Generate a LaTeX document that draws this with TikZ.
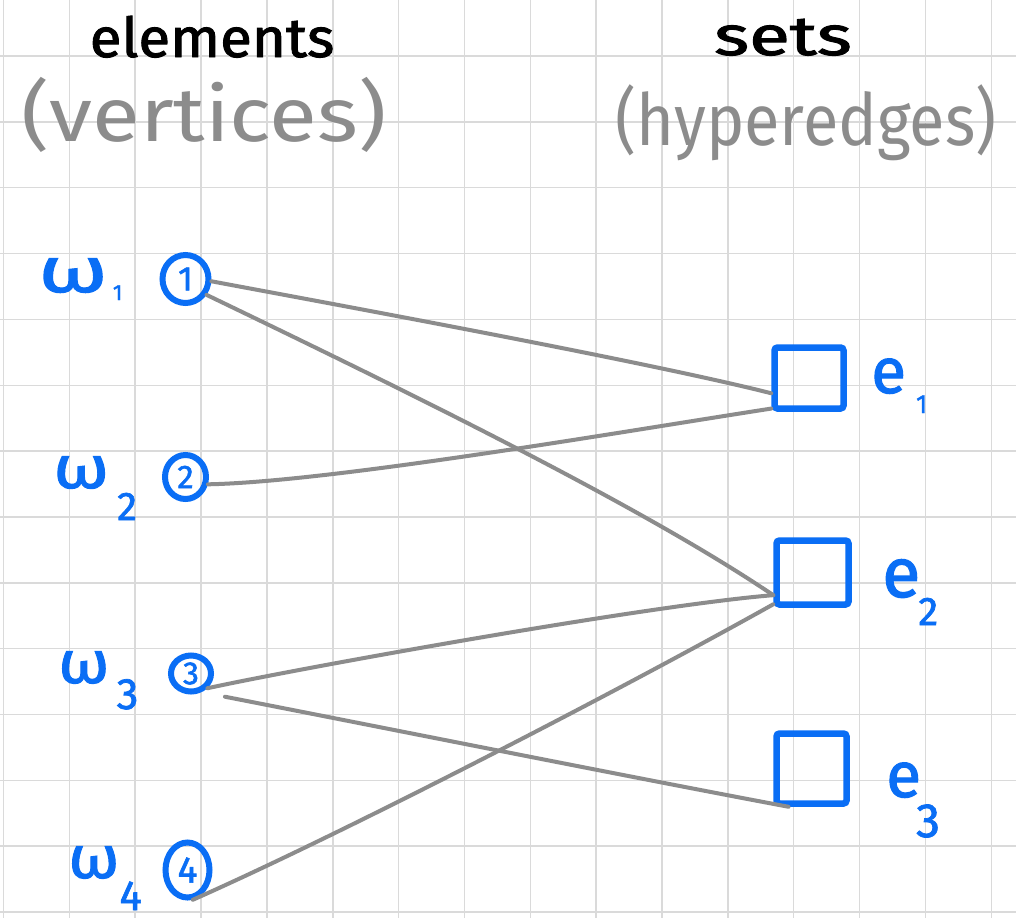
\documentclass[tikz,border=0pt]{standalone}
\usepackage{fontspec}
\setmainfont{Fira Sans}
\newfontfamily\heavy{Fira Sans}[FakeBold=1.6]
\usetikzlibrary{shapes.geometric}
\definecolor{ink}{HTML}{0A6EF5}
\definecolor{pencil}{HTML}{8C8C8C}
\definecolor{gridc}{HTML}{DADADA}
\newcommand{\fsz}[1]{\fontsize{#1}{#1}\selectfont}
% weight label: xscale of the omega, font size, gap, subscript size, drop, index
\newcommand{\wlab}[6]{\scalebox{#1}[1]{\fsz{#2}ω}\kern#3pt\raisebox{-#5pt}{\fsz{#4}#6}}
\newcommand{\elab}[5]{{\fsz{#1}e}\kern#2pt\raisebox{-#4pt}{\fsz{#3}#5}}
\begin{document}
\begin{tikzpicture}[x=1pt,y=-1pt,
  gridline/.style={draw=gridc, line width=1.5pt},
  elem/.style={ellipse, draw=ink, line width=6pt, inner sep=0pt, text=ink},
  hedge/.style={rectangle, draw=ink, line width=6.5pt, inner sep=0pt,
                rounded corners=3pt, minimum width=70pt, minimum height=64pt},
  link/.style={draw=pencil, line width=4pt, line cap=round},
  head/.style={text=black, anchor=base, inner sep=0pt},
  note/.style={text=pencil, anchor=base, inner sep=0pt},
  lab/.style={text=ink, anchor=base west, inner sep=0pt},
]
\useasboundingbox (0,0) rectangle (1016,918);
\fill[white] (0,0) rectangle (1016,918);

% squared paper
\foreach \k in {0,...,15} \draw[gridline] (3.5+65.85*\k,0) -- (3.5+65.85*\k,918);
\foreach \k in {1,...,14} \draw[gridline] (0,-9.85+65.85*\k) -- (1016,-9.85+65.85*\k);

% column headings
\node[head, font=\heavy\fsz{55}] (hElem) at (212,57) {\scalebox{1.06}[1]{elements}};
\node[note, font=\fsz{76}] (hVert) at (204,141) {\scalebox{1.15}[1]{(vertices)}};
\node[head, font=\heavy\fsz{55}] (hSets) at (783,55) {\scalebox{1.36}[1]{sets}};
\node[note, font=\fsz{72}] (hHyp) at (806,145) {\scalebox{0.9}[1]{(hyperedges)}};

% elements
\node[elem, minimum width=46pt, minimum height=48pt, font=\heavy\fsz{34}] (n1) at (185.5,279) {1};
\node[elem, minimum width=41pt, minimum height=44pt, font=\heavy\fsz{33}] (n2) at (185.5,477) {2};
\node[elem, minimum width=40pt, minimum height=36pt, font=\heavy\fsz{32}] (n3) at (191,673.5) {3};
\node[elem, minimum width=44pt, minimum height=55pt, font=\heavy\fsz{37}] (n4) at (187.5,870) {4};

% weights
\node[lab, font=\heavy] (w1) at (38,292) {\wlab{1.4}{64}{5}{22}{8}{1}};
\node[lab, font=\heavy] (w2) at (53,488) {\wlab{1.2}{60}{8}{40}{32}{2}};
\node[lab, font=\heavy] (w3) at (58,683) {\wlab{1.1}{60}{7}{44}{26}{3}};
\node[lab, font=\heavy] (w4) at (68,878) {\wlab{1.1}{60}{0}{42}{32}{4}};

% sets
\node[hedge, minimum width=69pt, minimum height=61pt] (e1) at (809,378) {};
\node[hedge, minimum width=72pt, minimum height=64pt] (e2) at (812.5,572.5) {};
\node[hedge, minimum width=70pt, minimum height=70pt] (e3) at (811.5,768.5) {};

% set names
\node[lab, font=\heavy] (l1) at (871,393) {\elab{64}{10}{26}{20}{1}};
\node[lab, font=\heavy] (l2) at (882,597) {\elab{70}{-2}{40}{28}{2}};
\node[lab, font=\heavy] (l3) at (886,797) {\elab{64}{-5}{48}{40}{3}};

% memberships
\draw[link] (n1.-5) .. controls (300,298) and (640,360) .. (e1.-158);
\draw[link] (n1.-37) .. controls (400,388) and (640,505) .. (e2.-150);
\draw[link] (n2.-18) .. controls (330,482) and (620,432) .. (e1.-141);
\draw[link] (n3.-42) .. controls (300,668) and (650,605) .. (e2.-150);
\draw[link] ([shift={(17,9)}]n3.-40) .. controls (380,727) and (630,777) .. (e3.-121);
\draw[link] (n4.-80) .. controls (350,830) and (620,690) .. (e2.-141);
\end{tikzpicture}
\end{document}
